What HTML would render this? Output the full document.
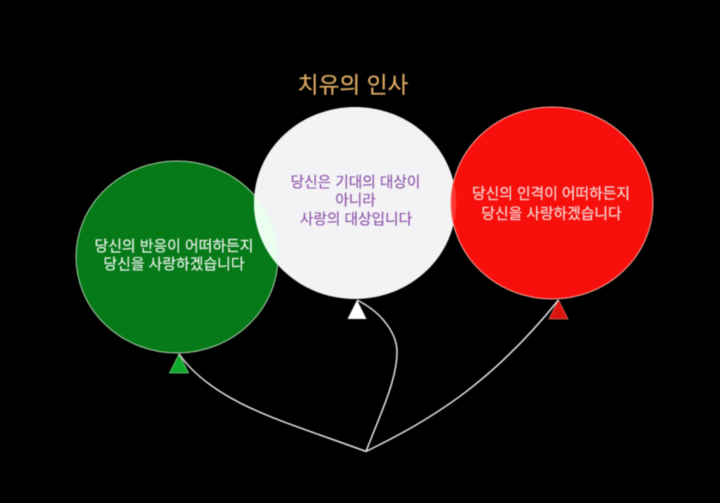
<!DOCTYPE html>
<html lang="ko">
<head>
<meta charset="utf-8">
<style>
html,body{margin:0;padding:0;background:#000;width:720px;height:503px;overflow:hidden}
svg{display:block;filter:blur(.5px)}
text{font-family:"Liberation Sans","Noto Sans CJK KR",sans-serif;text-anchor:middle}
</style>
</head>
<body>
<svg width="720" height="503" viewBox="0 0 720 503" xmlns="http://www.w3.org/2000/svg">
<rect width="720" height="503" fill="#000"/>
<ellipse cx="177" cy="257" rx="101" ry="96" fill="#067a18" stroke="#a9cfa9" stroke-width="1"/>
<ellipse cx="355" cy="203" rx="101" ry="96" fill="#f3f2f4"/>
<clipPath id="g"><ellipse cx="177" cy="257" rx="101" ry="96"/></clipPath>
<ellipse cx="355" cy="203" rx="101" ry="96" fill="#eafff0" clip-path="url(#g)"/>
<ellipse cx="552" cy="203" rx="101" ry="96" fill="#f70f0c" stroke="#f3a49c" stroke-width="1"/>
<clipPath id="w"><ellipse cx="355" cy="203" rx="101" ry="96"/></clipPath>
<ellipse cx="552" cy="203" rx="101" ry="96" fill="#fb3a36" clip-path="url(#w)"/>
<polygon points="179,354 169.500,373 188.500,373" fill="#0eaa2c" stroke="#7fc78c" stroke-width=".8"/>
<polygon points="357,300 347.500,319 366.500,319" fill="#fff"/>
<polygon points="558.500,300 549,319 568,319" fill="#dc1410" stroke="#e8645c" stroke-width=".8"/>
<g fill="none" stroke="#e6e6e6" stroke-width="1.500">
<path d="M179,354 C215,405 290,423 366,451.500"/>
<path d="M357,300 C385,314 397,336 397,352 C397,380 380,415 366,451.500"/>
<path d="M558.500,300 C490,385 430,420 366,451.500"/>
</g>
<text x="353" y="93" font-size="22.700" fill="#dcab63" stroke="#dcab63" stroke-width=".2">치유의 인사</text>
<g font-size="14.900" fill="#eef5ee" stroke="#eef5ee" stroke-width=".15">
<text x="174" y="251">당신의 반응이 어떠하든지</text>
<text x="174" y="269">당신을 사랑하겠습니다</text>
</g>
<g font-size="14.700" fill="#8a4fa8" stroke="#8a4fa8" stroke-width=".1">
<text x="355.500" y="187">당신은 기대의 대상이</text>
<text x="355.500" y="205">아니라</text>
<text x="356" y="224">사랑의 대상입니다</text>
</g>
<g font-size="14.800" fill="#f4d8d4" stroke="#f4d8d4" stroke-width=".2">
<text x="551" y="198.500">당신의 인격이 어떠하든지</text>
<text x="551.500" y="218.500">당신을 사랑하겠습니다</text>
</g>
</svg>
</body>
</html>
